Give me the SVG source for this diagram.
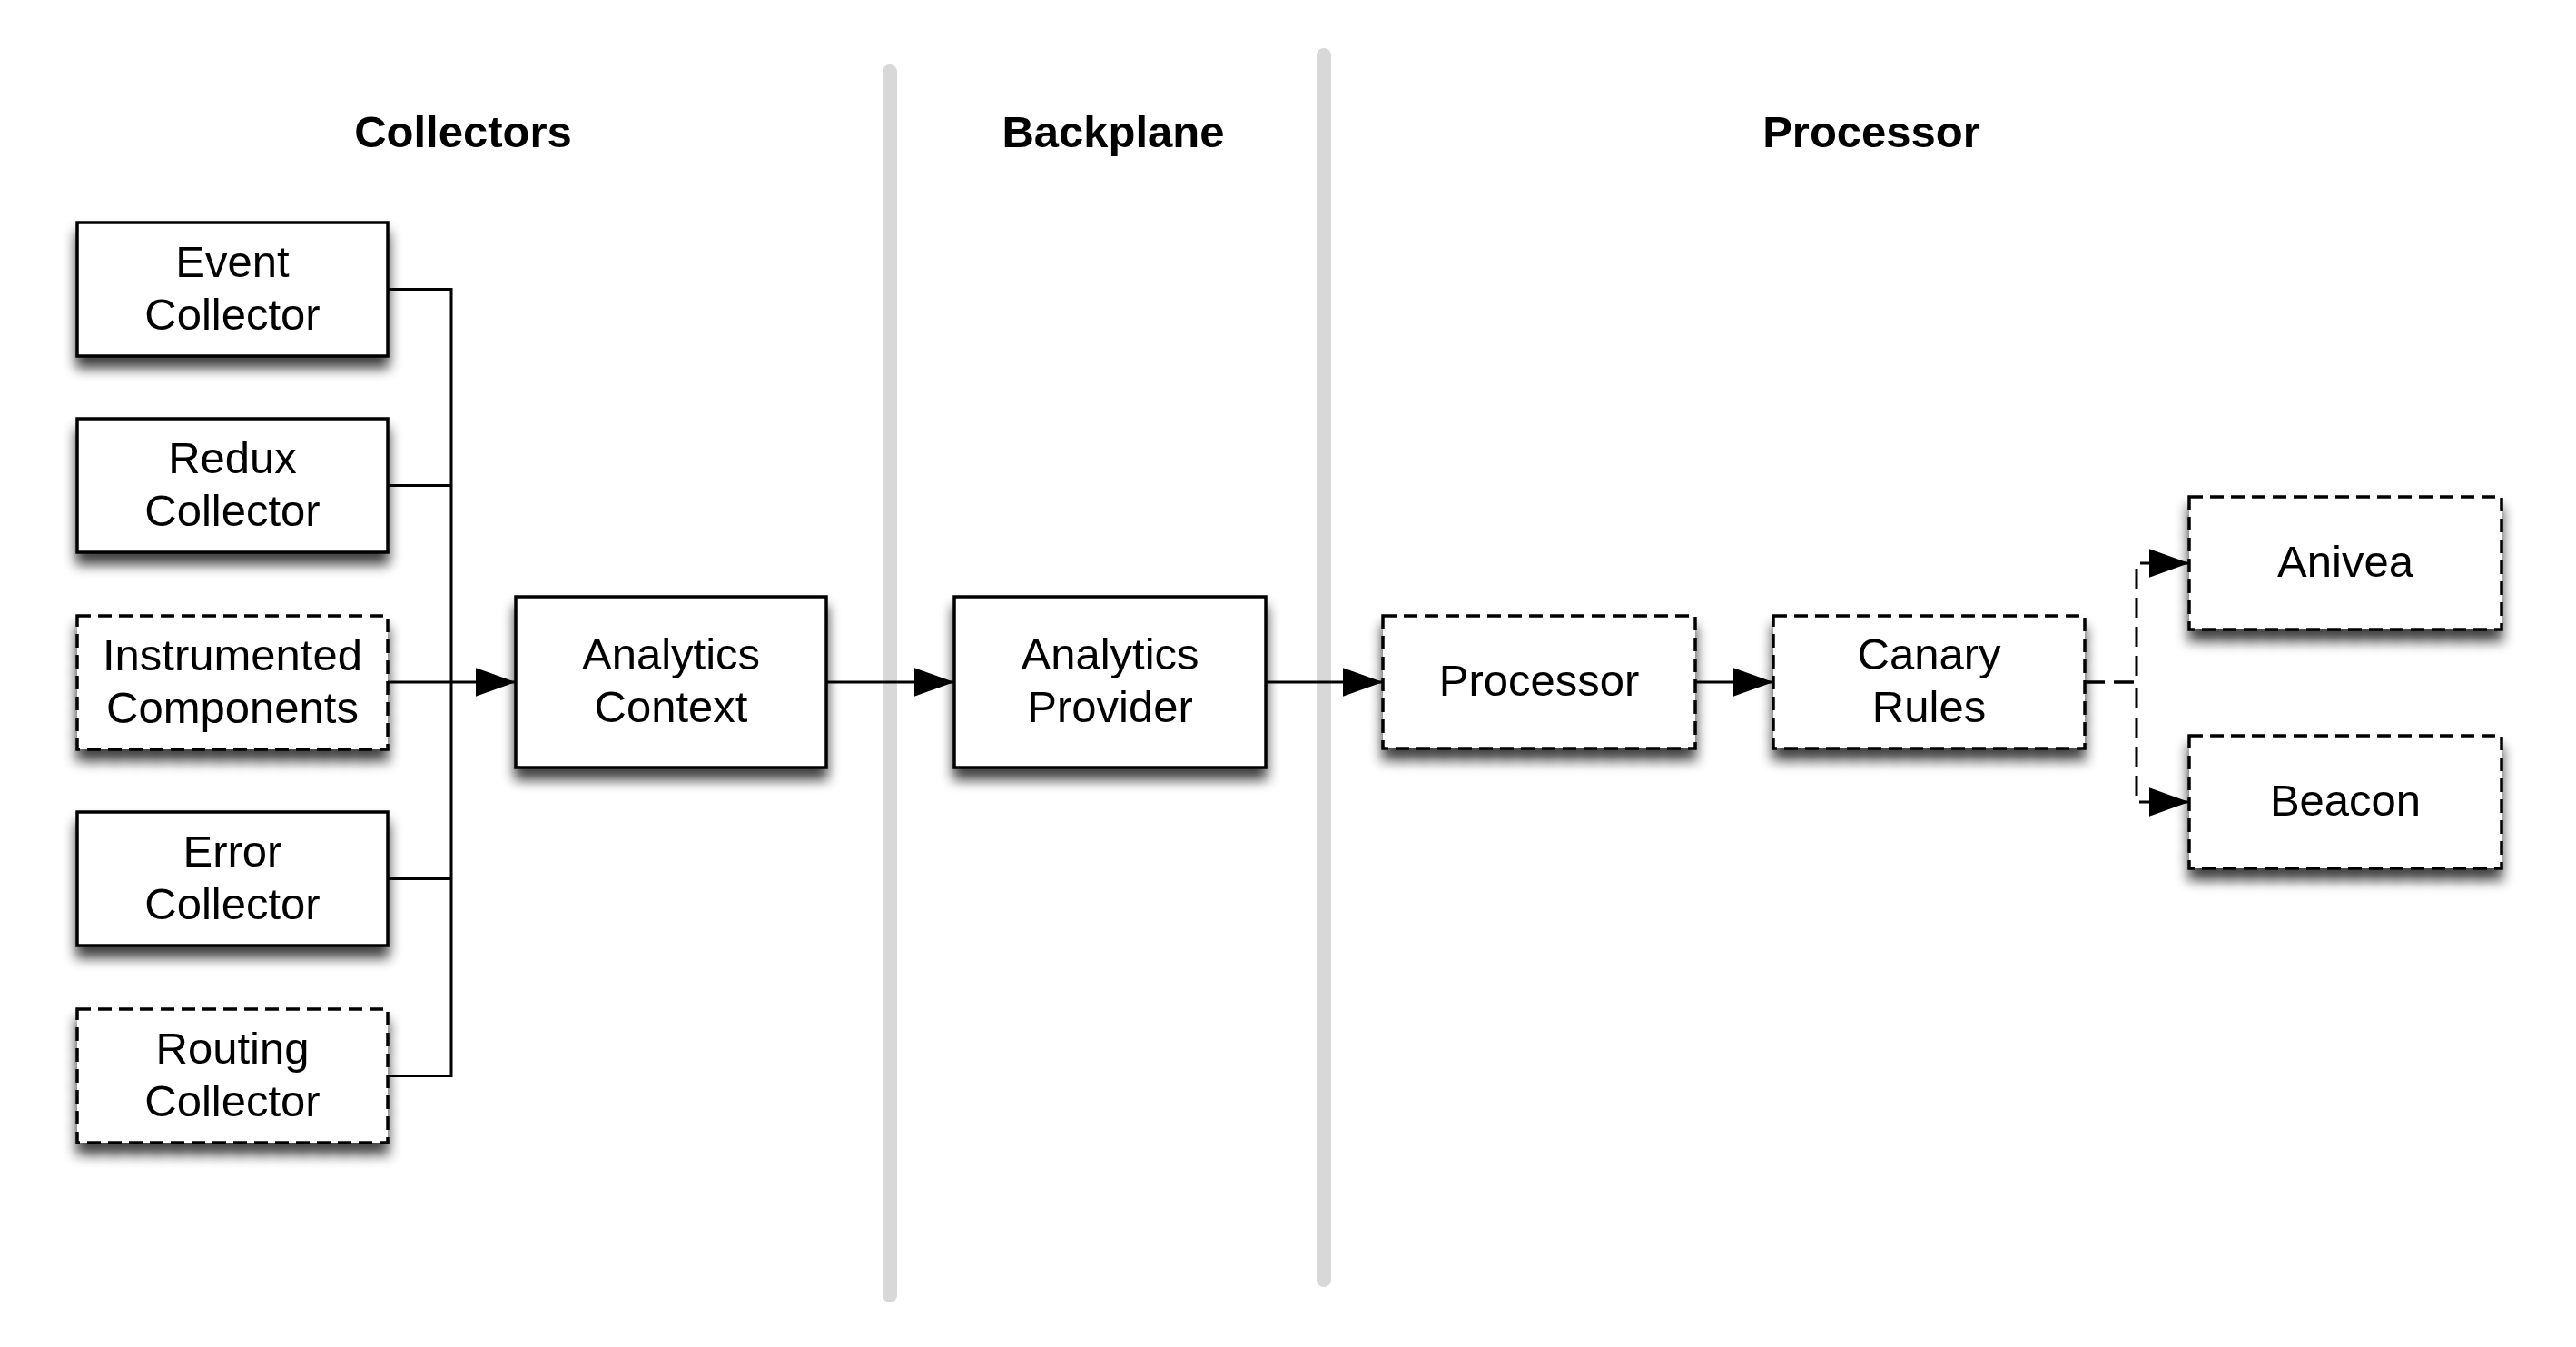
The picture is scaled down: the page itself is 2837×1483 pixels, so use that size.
<svg xmlns="http://www.w3.org/2000/svg" width="2837" height="1483" viewBox="0 0 2837 1483">
  <defs>
    <filter id="shadow" x="-20%" y="-20%" width="140%" height="160%">
      <feGaussianBlur in="SourceAlpha" stdDeviation="7"/>
      <feOffset dx="0" dy="12" result="b"/>
      <feComponentTransfer><feFuncA type="linear" slope="0.75"/></feComponentTransfer>
      <feMerge><feMergeNode/><feMergeNode in="SourceGraphic"/></feMerge>
    </filter>
    <marker id="arrow" markerUnits="userSpaceOnUse" markerWidth="44" markerHeight="32" viewBox="0 0 42 30" refX="42" refY="15" orient="auto">
      <path d="M0,0 L42,15 L0,30 Z" fill="#000"/>
    </marker>
  </defs>
  <style>
    .box { fill: #fff; stroke: #000; stroke-width: 3.5; filter: url(#shadow); }
    .dashed { stroke-dasharray: 15 8; }
    .label { font-family: "Liberation Sans", Arial, Helvetica, sans-serif; font-size: 49px; fill: #000; text-anchor: middle; }
    .title { font-family: "Liberation Sans", Arial, Helvetica, sans-serif; font-size: 49px; font-weight: bold; fill: #000; text-anchor: middle; }
    .divider { stroke: #d8d8d8; stroke-width: 16; stroke-linecap: round; fill: none; }
    .conn { fill: none; stroke: #000; stroke-width: 3; }
    .conn-dash { stroke-dasharray: 22 10; }
  </style>
  <rect width="2837" height="1483" fill="#fff"/>

  <g id="dividers">
    <line class="divider" x1="980" y1="79" x2="980" y2="1426"/>
    <line class="divider" x1="1458" y1="61" x2="1458" y2="1409"/>
  </g>

  <g id="titles">
    <text class="title" x="510" y="162">Collectors</text>
    <text class="title" x="1226" y="162">Backplane</text>
    <text class="title" x="2061" y="162">Processor</text>
  </g>

  <g id="connectors">
    <path class="conn" d="M427,318.5 H497 V1184.5 H427"/>
    <path class="conn" d="M427,534.5 H497"/>
    <path class="conn" d="M427,967.5 H497"/>
    <path class="conn" d="M427,751 H568" marker-end="url(#arrow)"/>
    <path class="conn" d="M910,751 H1051" marker-end="url(#arrow)"/>
    <path class="conn" d="M1394,751 H1523" marker-end="url(#arrow)"/>
    <path class="conn" d="M1867,751 H1953" marker-end="url(#arrow)"/>
    <path class="conn conn-dash" d="M2296,751 H2353 V620 H2411" marker-end="url(#arrow)"/>
    <path class="conn conn-dash" d="M2296,751 H2353 V883 H2411" marker-end="url(#arrow)"/>
  </g>

  <g id="event-collector">
    <rect class="box" x="85" y="245" width="342" height="147"/>
    <text class="label" x="256" y="304.5">Event</text>
    <text class="label" x="256" y="362.5">Collector</text>
  </g>
  <g id="redux-collector">
    <rect class="box" x="85" y="461" width="342" height="147"/>
    <text class="label" x="256" y="520.5">Redux</text>
    <text class="label" x="256" y="578.5">Collector</text>
  </g>
  <g id="instrumented-components">
    <rect class="box dashed" x="85" y="678" width="342" height="147"/>
    <text class="label" x="256" y="737.5">Instrumented</text>
    <text class="label" x="256" y="795.5">Components</text>
  </g>
  <g id="error-collector">
    <rect class="box" x="85" y="894" width="342" height="147"/>
    <text class="label" x="256" y="953.5">Error</text>
    <text class="label" x="256" y="1011.5">Collector</text>
  </g>
  <g id="routing-collector">
    <rect class="box dashed" x="85" y="1111" width="342" height="147"/>
    <text class="label" x="256" y="1170.5">Routing</text>
    <text class="label" x="256" y="1228.5">Collector</text>
  </g>

  <g id="analytics-context">
    <rect class="box" x="568" y="657" width="342" height="188"/>
    <text class="label" x="739" y="737">Analytics</text>
    <text class="label" x="739" y="795">Context</text>
  </g>
  <g id="analytics-provider">
    <rect class="box" x="1051" y="657" width="343" height="188"/>
    <text class="label" x="1222.5" y="737">Analytics</text>
    <text class="label" x="1222.5" y="795">Provider</text>
  </g>

  <g id="processor">
    <rect class="box dashed" x="1523" y="678" width="344" height="146"/>
    <text class="label" x="1695" y="766">Processor</text>
  </g>
  <g id="canary-rules">
    <rect class="box dashed" x="1953" y="678" width="343" height="146"/>
    <text class="label" x="2124.5" y="737">Canary</text>
    <text class="label" x="2124.5" y="795">Rules</text>
  </g>
  <g id="anivea">
    <rect class="box dashed" x="2411" y="547" width="344" height="146"/>
    <text class="label" x="2583" y="635">Anivea</text>
  </g>
  <g id="beacon">
    <rect class="box dashed" x="2411" y="810" width="344" height="146"/>
    <text class="label" x="2583" y="898">Beacon</text>
  </g>
</svg>
